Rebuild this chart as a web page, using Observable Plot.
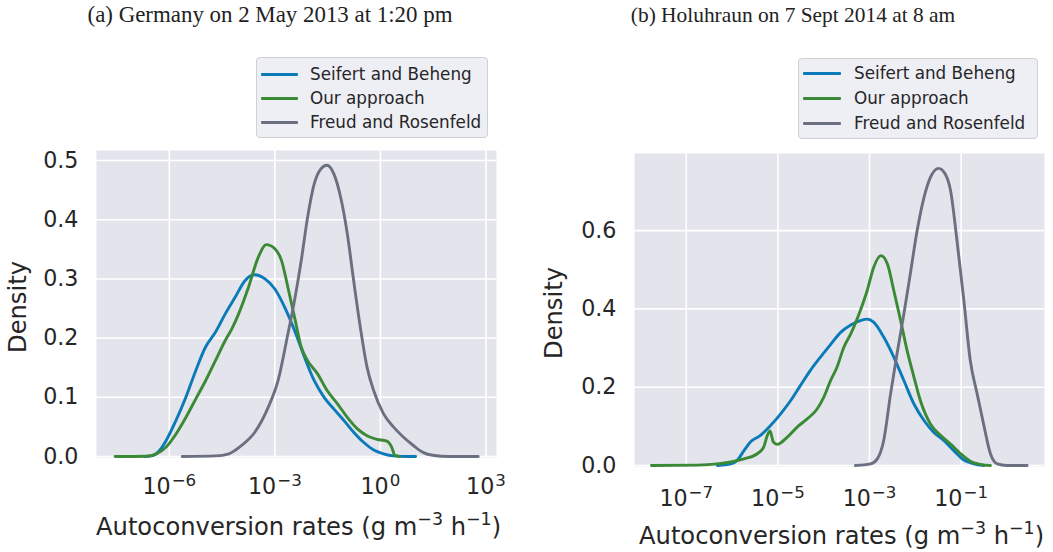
<!DOCTYPE html>
<html>
<head>
<meta charset="utf-8">
<script src="https://cdn.jsdelivr.net/npm/d3@7"></script>
<script src="https://cdn.jsdelivr.net/npm/@observablehq/plot@0.6"></script>
<style>
  html, body { margin: 0; padding: 0; background: #ffffff; }
  #fig { position: relative; width: 1053px; height: 552px; overflow: hidden; font-family: "DejaVu Sans", sans-serif; color: #262626; }
  .panel { position: absolute; top: 0; }
  .title { position: absolute; font-family: "Liberation Serif", "Times New Roman", serif; color: #222; white-space: nowrap; text-align: center; line-height: 26px; }
  .xlabel { position: absolute; font-size: 24.2px; white-space: nowrap; text-align: center; line-height: 26px; height: 26px; }
  .xlabel .sup { font-size: 0.72em; position: relative; top: -0.55em; }
  .ylabel { position: absolute; font-size: 24.2px; white-space: nowrap; text-align: center; line-height: 26px; height: 26px; width: 120px; transform: rotate(-90deg); }
  .legend { position: absolute; box-sizing: border-box; background: rgba(234,234,242,0.8); border: 1px solid #cfcfd4; border-radius: 4px; }
  .legend .row { position: absolute; left: 0; height: 20px; width: 100%; }
  .legend .swatch { position: absolute; height: 3px; border-radius: 1px; top: 9px; }
  .legend .lab { position: absolute; top: 0; font-size: 16.8px; line-height: 20px; white-space: nowrap; color: #262626; }
</style>
</head>
<body>
<div id="fig"></div>
<script>
// Series names and colours
const seriesNames = ["Seifert and Beheng", "Our approach", "Freud and Rosenfeld"];
const seriesColors = ["#0a7ab8", "#3a8a35", "#6b7080"];

// (a) Germany, 2 May 2013 — log10 of autoconversion rate and kernel density
const germanySBx = [-6.7, -6.45, -6.28, -6.09, -5.81, -5.53, -5.25, -4.97, -4.69, -4.41, -4.13, -3.85, -3.57, -3.28, -3.0, -2.72, -2.44, -2.16, -1.88, -1.6, -1.32, -1.04, -0.76, -0.48, -0.19, 0.09, 0.37, 0.75, 1.0];
const germanySBy = [0.0, 0.002, 0.01, 0.027, 0.061, 0.1, 0.145, 0.185, 0.21, 0.241, 0.269, 0.297, 0.307, 0.3, 0.283, 0.252, 0.213, 0.168, 0.128, 0.1, 0.08, 0.061, 0.041, 0.024, 0.011, 0.0045, 0.001, 0.0, 0.0];
const germanyOAx = [-7.54, -6.66, -6.37, -6.09, -5.81, -5.53, -5.25, -4.97, -4.69, -4.41, -4.22, -4.03, -3.75, -3.47, -3.24, -3.0, -2.81, -2.63, -2.44, -2.25, -2.07, -1.79, -1.51, -1.22, -0.94, -0.66, -0.38, -0.1, 0.18, 0.32, 0.41, 0.55];
const germanyOAy = [0.0, 0.0005, 0.0045, 0.016, 0.038, 0.066, 0.097, 0.128, 0.162, 0.196, 0.216, 0.241, 0.286, 0.337, 0.358, 0.351, 0.331, 0.286, 0.235, 0.185, 0.162, 0.14, 0.111, 0.089, 0.066, 0.047, 0.035, 0.029, 0.026, 0.016, 0.002, 0.0];
const germanyFRx = [-5.63, -4.69, -4.31, -3.94, -3.57, -3.19, -2.91, -2.63, -2.44, -2.25, -2.07, -1.88, -1.69, -1.52, -1.32, -1.13, -0.94, -0.76, -0.57, -0.38, -0.19, 0.09, 0.37, 0.65, 0.93, 1.21, 1.49, 1.96, 2.78];
const germanyFRy = [0.0, 0.001, 0.0045, 0.019, 0.041, 0.083, 0.128, 0.207, 0.264, 0.331, 0.404, 0.461, 0.486, 0.492, 0.477, 0.438, 0.376, 0.297, 0.218, 0.151, 0.111, 0.072, 0.05, 0.033, 0.019, 0.007, 0.002, 0.0, 0.0];

// (b) Holuhraun, 7 Sept 2014
const holuSBx = [-6.32, -6.03, -5.89, -5.74, -5.6, -5.38, -5.16, -4.94, -4.72, -4.51, -4.29, -4.07, -3.85, -3.63, -3.41, -3.2, -3.05, -2.91, -2.69, -2.47, -2.25, -2.03, -1.81, -1.6, -1.38, -1.16, -0.94, -0.72, -0.5];
const holuSBy = [0.0, 0.004, 0.013, 0.038, 0.06, 0.077, 0.102, 0.132, 0.166, 0.204, 0.243, 0.277, 0.309, 0.34, 0.359, 0.37, 0.374, 0.366, 0.328, 0.277, 0.217, 0.157, 0.115, 0.085, 0.064, 0.038, 0.014, 0.004, 0.0];
const holuOAx = [-7.76, -6.76, -6.32, -6.03, -5.74, -5.45, -5.31, -5.23, -5.17, -5.1, -5.01, -4.8, -4.58, -4.36, -4.14, -4.0, -3.85, -3.71, -3.56, -3.41, -3.2, -3.05, -2.91, -2.75, -2.61, -2.47, -2.32, -2.18, -2.03, -1.89, -1.67, -1.45, -1.23, -1.01, -0.8, -0.58, -0.36];
const holuOAy = [0.0, 0.001, 0.004, 0.009, 0.017, 0.03, 0.047, 0.077, 0.088, 0.06, 0.054, 0.072, 0.098, 0.119, 0.145, 0.174, 0.217, 0.251, 0.302, 0.336, 0.396, 0.447, 0.506, 0.536, 0.515, 0.447, 0.37, 0.294, 0.226, 0.166, 0.106, 0.077, 0.055, 0.03, 0.011, 0.003, 0.0];
const holuFRx = [-3.31, -2.98, -2.83, -2.69, -2.54, -2.4, -2.25, -2.11, -1.96, -1.81, -1.67, -1.49, -1.35, -1.23, -1.09, -0.94, -0.8, -0.65, -0.51, -0.36, -0.21, 0.0, 0.44];
const holuFRy = [0.0, 0.004, 0.017, 0.064, 0.183, 0.285, 0.387, 0.489, 0.6, 0.685, 0.736, 0.759, 0.745, 0.702, 0.574, 0.421, 0.268, 0.183, 0.106, 0.03, 0.004, 0.0, 0.0];

// Axis ticks (as powers of ten)
const germanyXTicks = [-6, -3, 0, 3];
const germanyYTicks = [0, 0.1, 0.2, 0.3, 0.4, 0.5];
const holuXTicks = [-7, -5, -3, -1];
const holuYTicks = [0, 0.2, 0.4, 0.6];

function rows(name, xs, ys) {
  return xs.map((e, i) => ({series: name, rate: Math.pow(10, e), density: ys[i]}));
}

// Turn "10^−6" tick strings into a base and a raised exponent
function superscriptTicks(svg) {
  d3.select(svg).selectAll('g[aria-label="x-axis tick label"] text').each(function () {
    const t = d3.select(this);
    const [base, exp] = t.text().split("^");
    t.text(null);
    t.append("tspan").text(base);
    t.append("tspan").attr("dx", "0.06em").attr("dy", "-0.5em").attr("font-size", "0.75em").text(exp);
  });
}

function panel({data, xDomain, xTicks, yDomain, yTicks, width, height, margin, xPad}) {
  const svg = Plot.plot({
    width, height,
    marginLeft: margin[3], marginRight: margin[1], marginTop: margin[0], marginBottom: margin[2],
    style: {fontFamily: "DejaVu Sans, sans-serif", fontSize: "22.2px", color: "#262626", background: "transparent", overflow: "visible"},
    x: {type: "log", domain: xDomain.map(e => Math.pow(10, e))},
    y: {domain: yDomain},
    color: {domain: seriesNames, range: seriesColors},
    marks: [
      Plot.frame({fill: "#e4e4ed", stroke: null}),
      Plot.gridX(xTicks.map(e => Math.pow(10, e)), {stroke: "#ffffff", strokeOpacity: 1, strokeWidth: 1.6}),
      Plot.gridY(yTicks, {stroke: "#ffffff", strokeOpacity: 1, strokeWidth: 1.6}),
      Plot.line(data, {x: "rate", y: "density", z: "series", stroke: "series", strokeWidth: 2.9, curve: "monotone-x"}),
      Plot.axisX(xTicks.map(e => Math.pow(10, e)), {tickSize: 0, tickPadding: xPad, label: null,
        tickFormat: d => "10^" + String(Math.round(Math.log10(d))).replace("-", "\u2212")}),
      Plot.axisY(yTicks, {tickSize: 0, tickPadding: 18, label: null, tickFormat: d => d.toFixed(1)})
    ]
  });
  superscriptTicks(svg);
  return svg;
}

const fig = document.getElementById("fig");

function place(el, left) {
  el.classList.add("panel");
  el.style.left = left + "px";
  fig.appendChild(el);
}

// Panel (a)
place(panel({
  data: [
    ...rows(seriesNames[0], germanySBx, germanySBy),
    ...rows(seriesNames[1], germanyOAx, germanyOAy),
    ...rows(seriesNames[2], germanyFRx, germanyFRy)
  ],
  xDomain: [-8.07, 3.3], xTicks: germanyXTicks,
  yDomain: [-0.0017, 0.517], yTicks: germanyYTicks,
  width: 520, height: 552, margin: [150, 24, 95, 96], xPad: 21
}), 0);

// Panel (b)
place(panel({
  data: [
    ...rows(seriesNames[0], holuSBx, holuSBy),
    ...rows(seriesNames[1], holuOAx, holuOAy),
    ...rows(seriesNames[2], holuFRx, holuFRy)
  ],
  xDomain: [-8.13, 0.82], xTicks: holuXTicks,
  yDomain: [-0.0026, 0.797], yTicks: holuYTicks,
  width: 523, height: 552, margin: [153, 9, 86, 104], xPad: 24
}), 530);

// Titles, axis labels and legends
function addDiv(cls, html, style) {
  const d = document.createElement("div");
  d.className = cls;
  d.innerHTML = html;
  Object.assign(d.style, style);
  fig.appendChild(d);
  return d;
}

addDiv("title", "(a) Germany on 2 May 2013 at 1:20 pm", {left: "70px", width: "400px", top: "2px", fontSize: "22.9px"});
addDiv("title", "(b) Holuhraun on 7 Sept 2014 at 8 am", {left: "593px", width: "400px", top: "2px", fontSize: "21.4px"});

const xLabelHTML = 'Autoconversion rates (g m<span class="sup">\u22123</span> h<span class="sup">\u22121</span>)';
addDiv("xlabel", xLabelHTML, {left: "96px", width: "401px", top: "514px"});
addDiv("xlabel", xLabelHTML, {left: "639px", width: "400px", top: "523px"});

addDiv("ylabel", "Density", {left: (18 - 60) + "px", top: (307 - 13) + "px"});
addDiv("ylabel", "Density", {left: (554 - 60) + "px", top: (313 - 13) + "px"});

function legend(box, lineX, textX, rowYs) {
  const lg = addDiv("legend", "", {left: box[0] + "px", top: box[1] + "px", width: box[2] + "px", height: box[3] + "px"});
  seriesNames.forEach((name, i) => {
    const r = document.createElement("div");
    r.className = "row";
    r.style.top = (rowYs[i] - box[1] - 10) + "px";
    r.innerHTML = `<div class="swatch" style="left:${lineX[0] - box[0] - 1}px;width:${lineX[1] - lineX[0]}px;background:${seriesColors[i]}"></div>` +
      `<div class="lab" style="left:${textX - box[0] - 1}px">${name}</div>`;
    lg.appendChild(r);
  });
}
legend([256, 57, 232, 81], [261, 298], 310, [72.7, 96.5, 120.7]);
legend([798, 58, 240, 81], [803, 841], 854, [72, 97.3, 121.7]);
</script>
</body>
</html>
